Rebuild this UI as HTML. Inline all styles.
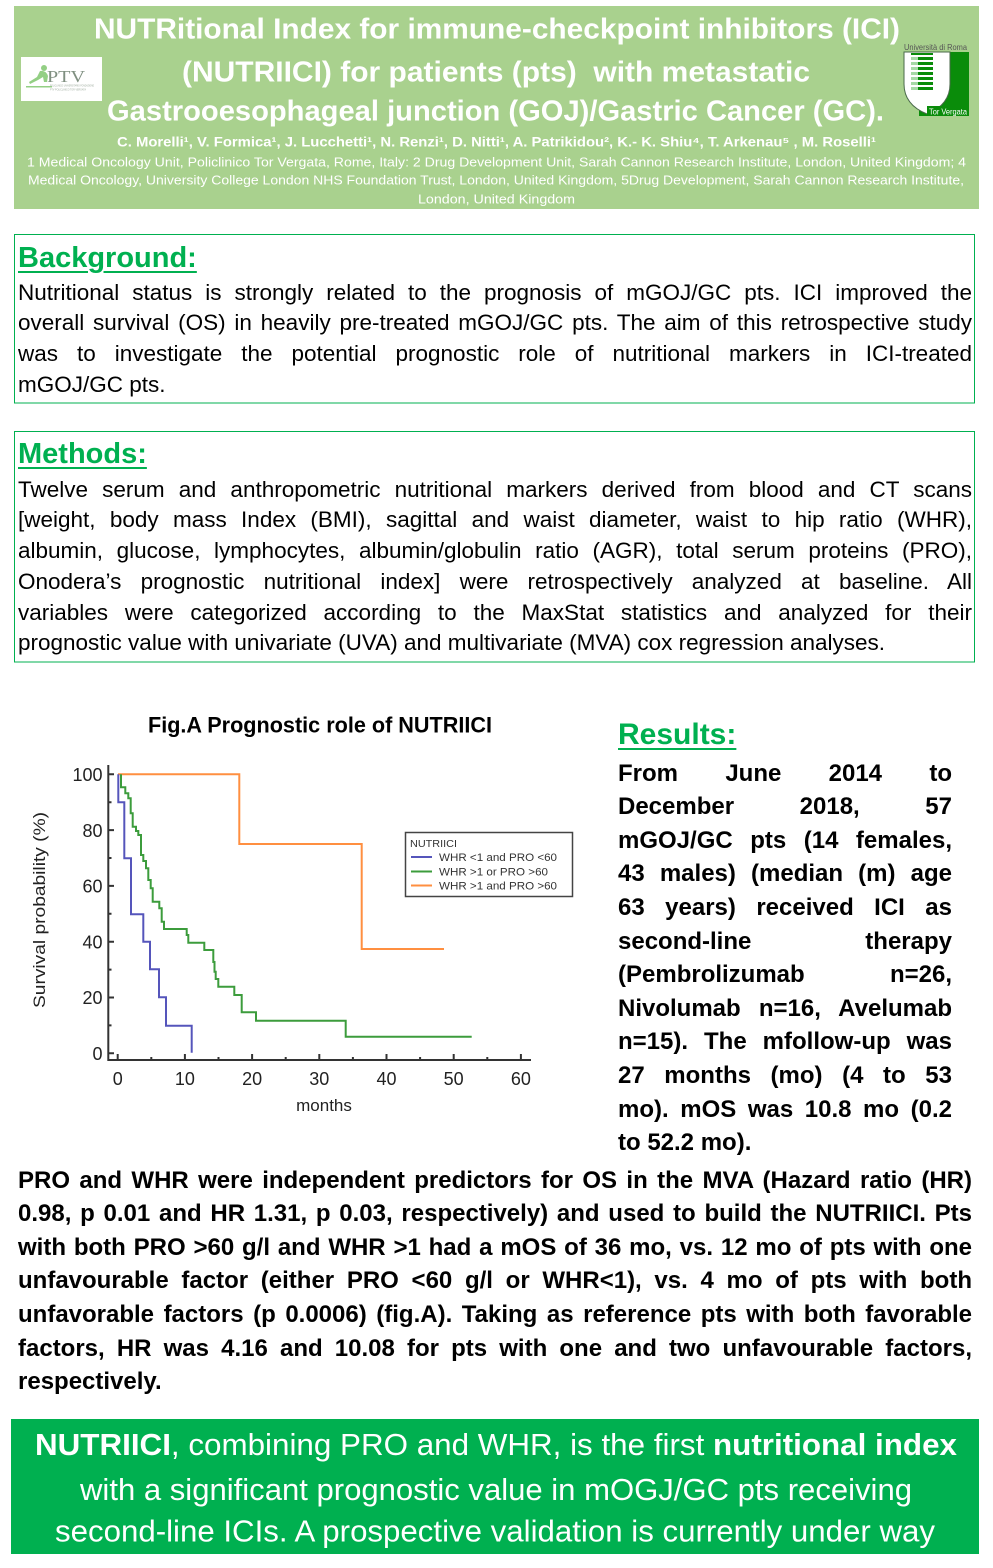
<!DOCTYPE html>
<html>
<head>
<meta charset="utf-8">
<style>
html,body{margin:0;padding:0;}
body{width:993px;height:1568px;position:relative;overflow:hidden;background:#fff;font-family:"Liberation Sans",Arial,sans-serif;}
svg.bg{position:absolute;left:0;top:0;}
.h{position:absolute;color:#00b050;font-weight:bold;text-decoration:underline;text-decoration-thickness:2px;text-underline-offset:4px;white-space:nowrap;}
.p{position:absolute;color:#000;}
.p div{text-align:justify;text-align-last:justify;white-space:normal;overflow:visible;}
.p div.last{text-align-last:left;}
.reg{left:18px;width:954px;font-size:22.5px;}
.reg div{height:30.6px;line-height:30.6px;}
.met div{height:30.8px;line-height:30.8px;}
.bold{font-weight:bold;font-size:24px;}
.bold div{height:33.6px;line-height:33.6px;}
</style>
</head>
<body>
<svg class="bg" width="993" height="1568" viewBox="0 0 993 1568" xmlns="http://www.w3.org/2000/svg" font-family="Liberation Sans, Arial, sans-serif">
  <!-- Header -->
  <rect x="14" y="6" width="965" height="203" fill="#a9d18e"/>
  <g fill="#fff" font-weight="bold">
    <text x="94" y="38.3" font-size="29" textLength="806" lengthAdjust="spacingAndGlyphs">NUTRitional Index for immune-checkpoint inhibitors (ICI)</text>
    <text x="182" y="81.7" font-size="29" textLength="628" lengthAdjust="spacingAndGlyphs">(NUTRIICI) for patients (pts)&#160; with metastatic</text>
    <text x="107" y="120.7" font-size="29" textLength="777" lengthAdjust="spacingAndGlyphs">Gastrooesophageal junction (GOJ)/Gastric Cancer (GC).</text>
    <text x="117" y="146.7" font-size="14" textLength="759" lengthAdjust="spacingAndGlyphs">C. Morelli¹, V. Formica¹, J. Lucchetti¹, N. Renzi¹, D. Nitti¹, A. Patrikidou², K.- K. Shiu⁴, T. Arkenau⁵ , M. Roselli¹</text>
  </g>
  <g fill="#fff" font-size="13">
    <text x="27" y="166.5" textLength="939" lengthAdjust="spacingAndGlyphs">1 Medical Oncology Unit, Policlinico Tor Vergata, Rome, Italy: 2 Drug Development Unit, Sarah Cannon Research Institute, London, United Kingdom; 4</text>
    <text x="28" y="184.5" textLength="936" lengthAdjust="spacingAndGlyphs">Medical Oncology, University College London NHS Foundation Trust, London, United Kingdom, 5Drug Development, Sarah Cannon Research Institute,</text>
    <text x="418" y="203.3" textLength="157" lengthAdjust="spacingAndGlyphs">London, United Kingdom</text>
  </g>
  <!-- PTV logo -->
  <rect x="21" y="57" width="81" height="44" fill="#fff"/>
  <g fill="#93cf84">
    <circle cx="44" cy="68" r="3"/>
    <path d="M40,71 Q46,70 48,76 L47,82 L44,82 L43,77 L38,80 L30,84 L29,82 L37,77 Z"/>
    <path d="M26,86 L52,86 L52,87.5 L26,87.5 Z"/>
  </g>
  <text x="47" y="82" font-family="Liberation Serif, serif" font-size="17" fill="#7f8f80" textLength="38" lengthAdjust="spacingAndGlyphs">PTV</text>
  <text x="50" y="86.5" font-size="3" fill="#9aa89a" textLength="44" lengthAdjust="spacingAndGlyphs">POLICLINICO UNIVERSITARIO FONDAZIONE</text>
  <text x="50" y="90.5" font-size="3" fill="#9aa89a" textLength="36" lengthAdjust="spacingAndGlyphs">PTV POLICLINICO TOR VERGATA</text>
  <!-- Tor Vergata logo -->
  <text x="904" y="50" font-size="8" fill="#555" textLength="63" lengthAdjust="spacingAndGlyphs">Università di Roma</text>
  <rect x="919" y="52" width="50" height="64" fill="#0a8c0a"/>
  <path d="M904,52 H950 V84 C950,102 937,110 927,114 C917,110 904,102 904,84 Z" fill="#fff" stroke="#4a6a4a" stroke-width="1"/>
  <g>
    <rect x="911" y="53" width="22" height="2" fill="#0a8c0a"/>
    <rect x="911" y="57" width="22" height="3" fill="#0a8c0a"/><rect x="911" y="57" width="7" height="3" fill="#a6d8a6"/>
    <rect x="911" y="62" width="22" height="3" fill="#0a8c0a"/><rect x="911" y="62" width="7" height="3" fill="#a6d8a6"/>
    <rect x="911" y="67" width="22" height="3" fill="#0a8c0a"/><rect x="911" y="67" width="7" height="3" fill="#a6d8a6"/>
    <rect x="911" y="72" width="22" height="3" fill="#0a8c0a"/><rect x="911" y="72" width="7" height="3" fill="#a6d8a6"/>
    <rect x="911" y="77" width="22" height="3" fill="#0a8c0a"/><rect x="911" y="77" width="7" height="3" fill="#a6d8a6"/>
    <rect x="911" y="82" width="22" height="3" fill="#0a8c0a"/><rect x="911" y="82" width="7" height="3" fill="#a6d8a6"/>
    <rect x="911" y="87" width="22" height="3" fill="#0a8c0a"/><rect x="911" y="87" width="7" height="3" fill="#a6d8a6"/>
  </g>
  <rect x="927" y="106" width="42" height="10" fill="#0a8c0a"/>
  <text x="929" y="114.5" font-size="8" fill="#fff" textLength="38" lengthAdjust="spacingAndGlyphs">Tor Vergata</text>

  <!-- Section boxes -->
  <rect x="14.5" y="234.5" width="960" height="168.5" fill="none" stroke="#00b050" stroke-width="1"/>
  <rect x="14.5" y="431.5" width="960" height="230.5" fill="none" stroke="#00b050" stroke-width="1"/>

  <!-- Chart -->
  <text x="148" y="732.7" font-size="22" font-weight="bold" fill="#000" textLength="344" lengthAdjust="spacingAndGlyphs">Fig.A Prognostic role of NUTRIICI</text>
  <g stroke="#333" stroke-width="2" fill="none">
    <path d="M108.3,765 V1060 H531"/>
    <path d="M108.3,774.3 H114 M108.3,830.1 H114 M108.3,885.9 H114 M108.3,941.7 H114 M108.3,997.5 H114 M108.3,1053.3 H114"/>
    <path d="M108.3,802.2 H111.5 M108.3,858 H111.5 M108.3,913.8 H111.5 M108.3,969.6 H111.5 M108.3,1025.4 H111.5"/>
    <path d="M117.7,1060 V1054 M184.9,1060 V1054 M252.1,1060 V1054 M319.3,1060 V1054 M386.5,1060 V1054 M453.7,1060 V1054 M520.9,1060 V1054"/>
    <path d="M151.3,1060 V1057 M218.5,1060 V1057 M285.7,1060 V1057 M352.9,1060 V1057 M420.1,1060 V1057 M487.3,1060 V1057"/>
  </g>
  <g font-size="18" fill="#222" text-anchor="end">
    <text x="102.5" y="781">100</text>
    <text x="102.5" y="836.8">80</text>
    <text x="102.5" y="892.6">60</text>
    <text x="102.5" y="948.4">40</text>
    <text x="102.5" y="1004.2">20</text>
    <text x="102.5" y="1060">0</text>
  </g>
  <g font-size="18" fill="#222" text-anchor="middle">
    <text x="117.7" y="1085">0</text>
    <text x="184.9" y="1085">10</text>
    <text x="252.1" y="1085">20</text>
    <text x="319.3" y="1085">30</text>
    <text x="386.5" y="1085">40</text>
    <text x="453.7" y="1085">50</text>
    <text x="520.9" y="1085">60</text>
    <text x="324" y="1111" font-size="17">months</text>
  </g>
  <text transform="translate(45,1008) rotate(-90)" font-size="17" fill="#222" textLength="196" lengthAdjust="spacingAndGlyphs">Survival probability (%)</text>

  <!-- KM curves -->
  <path d="M118,774.3 H239.3 V844 H361.7 V949 H444" fill="none" stroke="#ff8f40" stroke-width="2"/>
  <path d="M121,774.3 V787.3 H125.3 V793.3 H128.3 V798.3 H130.7 V813.3 H132.7 V826.7 H136 V831 H138.3 V835 H141 V855 H143.3 V861 H146 V868.3 H148.3 V880 H150.7 V888.3 H152.7 V901.7 H159.3 V908.3 H161.7 V921.7 H164 V929 H186.7 V935 H188.3 V942.7 H204.3 V950 H213.3 V962 H214.5 V971.7 H215.7 V979 H218.3 V986.7 H234.3 V995 H241.7 V1012.3 H256 V1020.7 H345.7 V1036.7 H471.7" fill="none" stroke="#3c9c3c" stroke-width="2"/>
  <path d="M118.3,774.3 V802.3 H124.3 V858.3 H131 V914.3 H143.3 V941.7 H150 V969.3 H159 V997.3 H166 V1025.7 H191.7 V1052.7" fill="none" stroke="#5555bb" stroke-width="2"/>

  <!-- Legend -->
  <rect x="405.5" y="832.5" width="167" height="64" fill="#fff" stroke="#444" stroke-width="1.5"/>
  <text x="410" y="847" font-size="10.5" fill="#333" textLength="47" lengthAdjust="spacingAndGlyphs">NUTRIICI</text>
  <path d="M411,857 H432" stroke="#5555bb" stroke-width="2"/>
  <path d="M411,871.5 H432" stroke="#3c9c3c" stroke-width="2"/>
  <path d="M411,885.5 H432" stroke="#ff8f40" stroke-width="2"/>
  <g font-size="11" fill="#333">
    <text x="439" y="861" textLength="118" lengthAdjust="spacingAndGlyphs">WHR &lt;1 and PRO &lt;60</text>
    <text x="439" y="875.5" textLength="109" lengthAdjust="spacingAndGlyphs">WHR &gt;1 or PRO &gt;60</text>
    <text x="439" y="889.5" textLength="118" lengthAdjust="spacingAndGlyphs">WHR &gt;1 and PRO &gt;60</text>
  </g>

  <!-- Footer -->
  <rect x="11" y="1419" width="968" height="135" fill="#00b050"/>
  <g fill="#fff" font-size="31">
    <text x="35" y="1455" textLength="922" lengthAdjust="spacingAndGlyphs"><tspan font-weight="bold">NUTRIICI</tspan>, combining PRO and WHR, is the first <tspan font-weight="bold">nutritional index</tspan></text>
    <text x="80" y="1500" textLength="832" lengthAdjust="spacingAndGlyphs">with a significant prognostic value in mOGJ/GC pts receiving</text>
    <text x="55" y="1541.7" textLength="880" lengthAdjust="spacingAndGlyphs">second-line ICIs. A prospective validation is currently under way</text>
  </g>
</svg>

<!-- Background -->
<div class="h" style="left:18px;top:240.6px;font-size:29px;line-height:34px;">Background:</div>
<div class="p reg" style="top:277.9px;">
  <div>Nutritional status is strongly related to the prognosis of mGOJ/GC pts. ICI improved the</div>
  <div>overall survival (OS) in heavily pre-treated mGOJ/GC pts. The aim of this retrospective study</div>
  <div>was to investigate the potential prognostic role of nutritional markers in ICI-treated</div>
  <div class="last">mGOJ/GC pts.</div>
</div>

<!-- Methods -->
<div class="h" style="left:18px;top:437px;font-size:29px;line-height:34px;">Methods:</div>
<div class="p reg met" style="top:474.5px;">
  <div>Twelve serum and anthropometric nutritional markers derived from blood and CT scans</div>
  <div>[weight, body mass Index (BMI), sagittal and waist diameter, waist to hip ratio (WHR),</div>
  <div>albumin, glucose, lymphocytes, albumin/globulin ratio (AGR), total serum proteins (PRO),</div>
  <div>Onodera’s prognostic nutritional index] were retrospectively analyzed at baseline. All</div>
  <div>variables were categorized according to the MaxStat statistics and analyzed for their</div>
  <div class="last">prognostic value with univariate (UVA) and multivariate (MVA) cox regression analyses.</div>
</div>

<!-- Results -->
<div class="h" style="left:618px;top:717.6px;font-size:30px;line-height:34px;">Results:</div>
<div class="p bold" style="left:618px;width:334px;top:756.6px;">
  <div>From June 2014 to</div>
  <div>December 2018, 57</div>
  <div>mGOJ/GC pts (14 females,</div>
  <div>43 males) (median (m) age</div>
  <div>63 years) received ICI as</div>
  <div>second-line therapy</div>
  <div>(Pembrolizumab n=26,</div>
  <div>Nivolumab n=16, Avelumab</div>
  <div>n=15). The mfollow-up was</div>
  <div>27 months (mo) (4 to 53</div>
  <div>mo). mOS was 10.8 mo (0.2</div>
  <div class="last">to 52.2 mo).</div>
</div>

<div class="p bold" style="left:18px;width:954px;top:1163.6px;">
  <div>PRO and WHR were independent predictors for OS in the MVA (Hazard ratio (HR)</div>
  <div>0.98, p 0.01 and HR 1.31, p 0.03, respectively) and used to build the NUTRIICI. Pts</div>
  <div>with both PRO &gt;60 g/l and WHR &gt;1 had a mOS of 36 mo, vs. 12 mo of pts with one</div>
  <div>unfavourable factor (either PRO &lt;60 g/l or WHR&lt;1), vs. 4 mo of pts with both</div>
  <div>unfavorable factors (p 0.0006) (fig.A). Taking as reference pts with both favorable</div>
  <div>factors, HR was 4.16 and 10.08 for pts with one and two unfavourable factors,</div>
  <div class="last">respectively.</div>
</div>
</body>
</html>
